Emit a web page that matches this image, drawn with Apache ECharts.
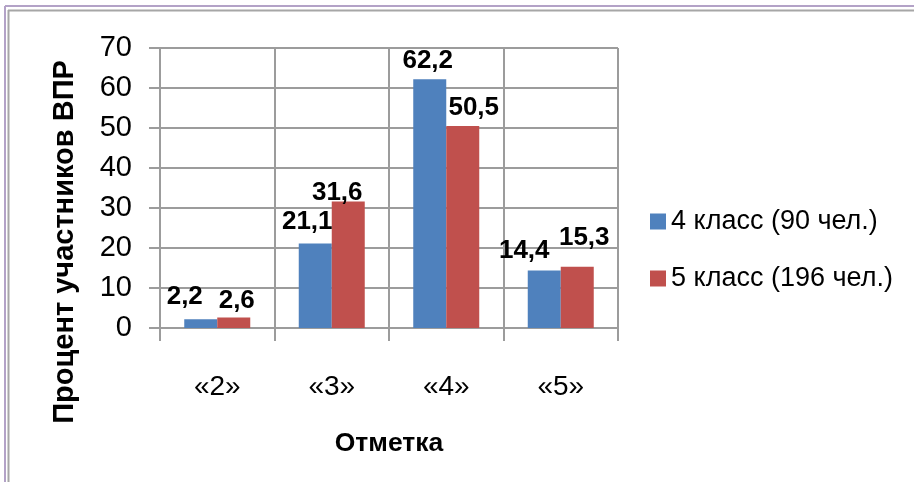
<!DOCTYPE html>
<html>
<head>
<meta charset="utf-8">
<script src="https://cdn.jsdelivr.net/npm/echarts@6/dist/echarts.min.js"></script>
<style>
html,body{margin:0;padding:0;background:#fff;}
#chart{width:914px;height:482px;}
</style>
</head>
<body>
<div id="chart"></div>
<script>
// ---- data ----
var categories = ['«2»', '«3»', '«4»', '«5»'];
var seriesNames = ['4 класс (90 чел.)', '5 класс (196 чел.)'];
var grade4 = [2.2, 21.1, 62.2, 14.4];
var grade5 = [2.6, 31.6, 50.5, 15.3];
var yTicks = [0, 10, 20, 30, 40, 50, 60, 70];
var yTitle = 'Процент участников ВПР';
var xTitle = 'Отметка';

// label nudges (style only), [dx, dy] per point
var nudge4 = [[-16, 4], [-8, 4], [-2, 0], [-20, 2]];
var nudge5 = [[3, -1], [-11, -9], [11, 0], [7, 11]];

function withLabels(vals, nudges) {
  return vals.map(function (v, i) {
    return { value: v, label: { offset: [nudges[i][0], -nudges[i][1]] } };
  });
}

var chart = echarts.init(document.getElementById('chart'), null, {renderer: 'canvas'});
var gridColor = '#9c9c9c';
var FONT = 'Liberation Sans';
var labelCommon = {
  show: true,
  position: 'top',
  distance: 5,
  color: '#000',
  fontFamily: FONT,
  fontWeight: 'bold',
  fontSize: 26,
  formatter: function (p) { return String(p.value).replace('.', ','); }
};

chart.setOption({
  animation: false,
  backgroundColor: '#fff',
  color: ['#4F81BD', '#C0504D'],
  grid: { left: 160, right: 296, top: 48, bottom: 154, containLabel: false },
  legend: {
    orient: 'vertical',
    left: 645,
    top: 203,
    itemWidth: 16,
    itemHeight: 16,
    itemGap: 30,
    icon: 'rect',
    textStyle: { fontFamily: FONT, fontSize: 27, color: '#000' },
    data: seriesNames
  },
  xAxis: {
    type: 'category',
    data: categories,
    boundaryGap: true,
    axisLine: { show: true, lineStyle: { color: gridColor, width: 2 } },
    axisTick: { show: true, length: 13, lineStyle: { color: gridColor, width: 2 } },
    splitLine: { show: true, lineStyle: { color: gridColor, width: 2 } },
    axisLabel: { margin: 45, fontFamily: FONT, fontSize: 28, color: '#000' },
    name: xTitle,
    nameLocation: 'middle',
    nameGap: 102,
    nameTextStyle: { fontFamily: FONT, fontWeight: 'bold', fontSize: 26.5, color: '#000' }
  },
  yAxis: {
    type: 'value',
    min: yTicks[0],
    max: yTicks[yTicks.length - 1],
    interval: 10,
    axisLine: { show: true, lineStyle: { color: gridColor, width: 2 } },
    axisTick: { show: true, length: 11, lineStyle: { color: gridColor, width: 2 } },
    splitLine: { show: true, lineStyle: { color: gridColor, width: 2 } },
    axisLabel: { margin: 28, fontFamily: FONT, fontSize: 29, color: '#000' }
  },
  series: [
    { name: seriesNames[0], type: 'bar', barWidth: 33, barGap: '0%', data: withLabels(grade4, nudge4), label: labelCommon },
    { name: seriesNames[1], type: 'bar', barWidth: 33, barGap: '0%', data: withLabels(grade5, nudge5), label: labelCommon }
  ],
  graphic: [
    { type: 'line', shape: { x1: 5, y1: 6, x2: 914, y2: 6 }, style: { stroke: '#B3A2C7', lineWidth: 2 } },
    { type: 'line', shape: { x1: 5, y1: 6, x2: 5, y2: 482 }, style: { stroke: '#B3A2C7', lineWidth: 2 } },
    { type: 'line', shape: { x1: 8, y1: 10.5, x2: 914, y2: 10.5 }, style: { stroke: '#a6a6a6', lineWidth: 2 } },
    { type: 'line', shape: { x1: 8.5, y1: 10, x2: 8.5, y2: 482 }, style: { stroke: '#a6a6a6', lineWidth: 2 } },
    { type: 'text', x: 65, y: 242, rotation: Math.PI / 2,
      style: { text: yTitle, fontFamily: FONT, fontWeight: 'bold', fontSize: 29, fill: '#000', textAlign: 'center', textVerticalAlign: 'middle', align: 'center', verticalAlign: 'middle' } }
  ]
});
</script>
</body>
</html>
